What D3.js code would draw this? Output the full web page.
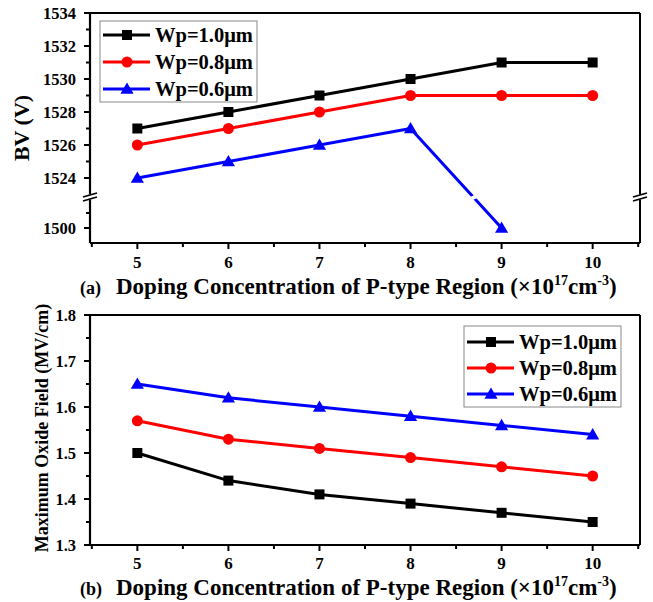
<!DOCTYPE html>
<html lang="en">
<head>
<meta charset="UTF-8">
<title>BV and Maximum Oxide Field</title>
<script src="https://d3js.org/d3.v7.min.js"></script>
<style>
  body { margin: 0; background: #fff; }
  svg { display: block; font-family: "Liberation Serif", "Times New Roman", serif; font-weight: bold; }
</style>
</head>
<body>
<svg id="chart" width="653" height="602"></svg>
<script>
// doping concentration (x1e17 cm^-3)
const doping = [5, 6, 7, 8, 9, 10];
const seriesNames = ["Wp=1.0\u03bcm", "Wp=0.8\u03bcm", "Wp=0.6\u03bcm"];
const colors = ["#000000", "#ff0000", "#0000ff"];
const shapes = ["square", "circle", "triangle"];

// (a) breakdown voltage (V)
const bvWp10 = [1527, 1528, 1529, 1530, 1531, 1531];
const bvWp08 = [1526, 1527, 1528, 1529, 1529, 1529];
const bvWp06 = [1524, 1525, 1526, 1527, 1500];

// (b) maximum oxide field (MV/cm)
const efWp10 = [1.50, 1.44, 1.41, 1.39, 1.37, 1.35];
const efWp08 = [1.57, 1.53, 1.51, 1.49, 1.47, 1.45];
const efWp06 = [1.65, 1.62, 1.60, 1.58, 1.56, 1.54];

const bvTicksUpper = [1524, 1526, 1528, 1530, 1532, 1534];
const bvTicksLower = [1500];
const efTicks = [1.3, 1.4, 1.5, 1.6, 1.7, 1.8];

const svg = d3.select("#chart");
const L = 90, R = 640;

const x = d3.scaleLinear().domain([4.48, 10.52]).range([L, R]);

// top panel: broken y axis
const top1 = 13, bot1 = 243;
const yUp = d3.scaleLinear().domain([1523, 1534]).range([194.5, top1]);
const yLo = d3.scaleLinear().domain([1495, 1509]).range([bot1, 201]);
const yBV = v => v >= 1520 ? yUp(v) : yLo(v);
const breakY = 197.5;

// bottom panel
const top2 = 315, bot2 = 545;
const yEF = d3.scaleLinear().domain([1.3, 1.8]).range([bot2, top2]);

function marker(g, shape, color, cx, cy) {
  if (shape === "square") {
    g.append("rect").attr("x", cx - 5).attr("y", cy - 5).attr("width", 10).attr("height", 10).attr("fill", color);
  } else if (shape === "circle") {
    g.append("circle").attr("cx", cx).attr("cy", cy).attr("r", 5.5).attr("fill", color);
  } else {
    g.append("path").attr("d", d3.symbol(d3.symbolTriangle, 75)()).attr("transform", `translate(${cx},${cy + 1})`).attr("fill", color);
  }
}

function drawSeries(g, vals, yf, i) {
  const pts = vals.map((v, k) => [x(doping[k]), yf(v)]);
  g.append("path").attr("d", d3.line()(pts)).attr("fill", "none")
    .attr("stroke", colors[i]).attr("stroke-width", 3).attr("stroke-linejoin", "round");
  pts.forEach(p => marker(g, shapes[i], colors[i], p[0], p[1]));
  return pts;
}

function xAxis(g, yb, labelY, tag, tagY) {
  g.append("line").attr("x1", L).attr("x2", R).attr("y1", yb).attr("y2", yb).attr("stroke", "#000").attr("stroke-width", 2.2);
  const majors = d3.range(5, 11);
  const minors = d3.range(4.5, 11, 1);
  majors.forEach(t => g.append("line").attr("x1", x(t)).attr("x2", x(t)).attr("y1", yb).attr("y2", yb + 6).attr("stroke", "#000").attr("stroke-width", 2));
  minors.forEach(t => g.append("line").attr("x1", x(t)).attr("x2", x(t)).attr("y1", yb).attr("y2", yb + 4).attr("stroke", "#000").attr("stroke-width", 2));
  majors.forEach(t => g.append("text").attr("x", x(t)).attr("y", labelY).attr("text-anchor", "middle").attr("font-size", 17).text(t));
  g.append("text").attr("x", 80).attr("y", tagY).attr("font-size", 18).text(tag);
  const t = g.append("text").attr("x", 116).attr("y", tagY).attr("font-size", 23);
  t.append("tspan").text("Doping Concentration of P-type Region (\u00d710");
  t.append("tspan").attr("font-size", 14).attr("dy", -9).text("17");
  t.append("tspan").attr("dy", 9).text("cm");
  t.append("tspan").attr("font-size", 14).attr("dy", -9).text("-3");
  t.append("tspan").attr("dy", 9).text(")");
}

function legend(g, lx, ly, w, h, rowY) {
  g.append("rect").attr("x", lx).attr("y", ly).attr("width", w).attr("height", h)
    .attr("fill", "#fff").attr("stroke", "#888").attr("stroke-width", 1);
  seriesNames.forEach((n, i) => {
    const yy = rowY[i];
    g.append("line").attr("x1", lx + 3).attr("x2", lx + 50).attr("y1", yy).attr("y2", yy)
      .attr("stroke", colors[i]).attr("stroke-width", 3);
    marker(g, shapes[i], colors[i], lx + 27, yy);
    g.append("text").attr("x", lx + 55).attr("y", yy + 7).attr("font-size", 20.5).text(n);
  });
}

// ---------- (a) ----------
const ga = svg.append("g");
// frame
ga.append("line").attr("x1", L).attr("x2", R).attr("y1", top1).attr("y2", top1).attr("stroke", "#000").attr("stroke-width", 2);
ga.append("line").attr("x1", R).attr("x2", R).attr("y1", top1).attr("y2", bot1).attr("stroke", "#000").attr("stroke-width", 2);
ga.append("line").attr("x1", L).attr("x2", L).attr("y1", top1).attr("y2", bot1).attr("stroke", "#000").attr("stroke-width", 2.2);

drawSeries(ga, bvWp10, yBV, 0);
drawSeries(ga, bvWp08, yBV, 1);
const bluePts = drawSeries(ga, bvWp06, yBV, 2);
// gap where the blue segment crosses the break
const p1 = bluePts[3], p2 = bluePts[4];
const tb = (breakY - p1[1]) / (p2[1] - p1[1]);
const bx = p1[0] + tb * (p2[0] - p1[0]);
ga.append("line").attr("x1", bx - 9).attr("x2", bx + 9).attr("y1", breakY + 4).attr("y2", breakY - 4)
  .attr("stroke", "#fff").attr("stroke-width", 4);

// y ticks
bvTicksUpper.forEach(t => {
  ga.append("line").attr("x1", L - 6).attr("x2", L).attr("y1", yUp(t)).attr("y2", yUp(t)).attr("stroke", "#000").attr("stroke-width", 2);
  ga.append("text").attr("x", 76).attr("y", yUp(t) + 5.5).attr("text-anchor", "end").attr("font-size", 16.5).text(t);
});
d3.range(1525, 1534, 2).forEach(t => ga.append("line").attr("x1", L - 4).attr("x2", L).attr("y1", yUp(t)).attr("y2", yUp(t)).attr("stroke", "#000").attr("stroke-width", 2));
bvTicksLower.forEach(t => {
  ga.append("line").attr("x1", L - 6).attr("x2", L).attr("y1", yLo(t)).attr("y2", yLo(t)).attr("stroke", "#000").attr("stroke-width", 2);
  ga.append("text").attr("x", 76).attr("y", yLo(t) + 5.5).attr("text-anchor", "end").attr("font-size", 16.5).text(t);
});
[1505].forEach(t => ga.append("line").attr("x1", L - 4).attr("x2", L).attr("y1", yLo(t)).attr("y2", yLo(t)).attr("stroke", "#000").attr("stroke-width", 2));

// axis break marks
[L, R].forEach(ax => {
  ga.append("polygon").attr("points", `${ax - 8},${breakY + 1} ${ax + 8},${breakY - 4} ${ax + 8},${breakY - 1} ${ax - 8},${breakY + 4}`).attr("fill", "#fff");
  ga.append("rect").attr("x", ax - 2).attr("y", breakY - 3).attr("width", 4).attr("height", 5).attr("fill", "#fff");
  ga.append("line").attr("x1", ax - 7).attr("x2", ax + 7).attr("y1", breakY - 0.5).attr("y2", breakY - 4.5).attr("stroke", "#000").attr("stroke-width", 1.8);
  ga.append("line").attr("x1", ax - 7).attr("x2", ax + 7).attr("y1", breakY + 3.5).attr("y2", breakY - 0.5).attr("stroke", "#000").attr("stroke-width", 1.8);
});

xAxis(ga, bot1, 268, "(a)", 294);
ga.append("text").attr("transform", `translate(29,128) rotate(-90)`).attr("text-anchor", "middle").attr("font-size", 22).text("BV (V)");
legend(ga, 100, 21, 157, 81, [35, 62, 89]);

// ---------- (b) ----------
const gb = svg.append("g");
gb.append("line").attr("x1", L).attr("x2", R).attr("y1", top2).attr("y2", top2).attr("stroke", "#000").attr("stroke-width", 2);
gb.append("line").attr("x1", R).attr("x2", R).attr("y1", top2).attr("y2", bot2).attr("stroke", "#000").attr("stroke-width", 2);
gb.append("line").attr("x1", L).attr("x2", L).attr("y1", top2).attr("y2", bot2).attr("stroke", "#000").attr("stroke-width", 2.2);

drawSeries(gb, efWp10, yEF, 0);
drawSeries(gb, efWp08, yEF, 1);
drawSeries(gb, efWp06, yEF, 2);

efTicks.forEach(t => {
  gb.append("line").attr("x1", L - 6).attr("x2", L).attr("y1", yEF(t)).attr("y2", yEF(t)).attr("stroke", "#000").attr("stroke-width", 2);
  gb.append("text").attr("x", 76).attr("y", yEF(t) + 5.5).attr("text-anchor", "end").attr("font-size", 16.5).text(d3.format(".1f")(t));
});
d3.range(1.35, 1.8, 0.1).forEach(t => gb.append("line").attr("x1", L - 4).attr("x2", L).attr("y1", yEF(t)).attr("y2", yEF(t)).attr("stroke", "#000").attr("stroke-width", 2));

xAxis(gb, bot2, 569, "(b)", 595);
gb.append("text").attr("transform", `translate(48,428) rotate(-90)`).attr("text-anchor", "middle").attr("font-size", 18).text("Maximum Oxide Field (MV/cm)");
legend(gb, 464, 326, 157, 81, [342, 368, 394]);
</script>
</body>
</html>
